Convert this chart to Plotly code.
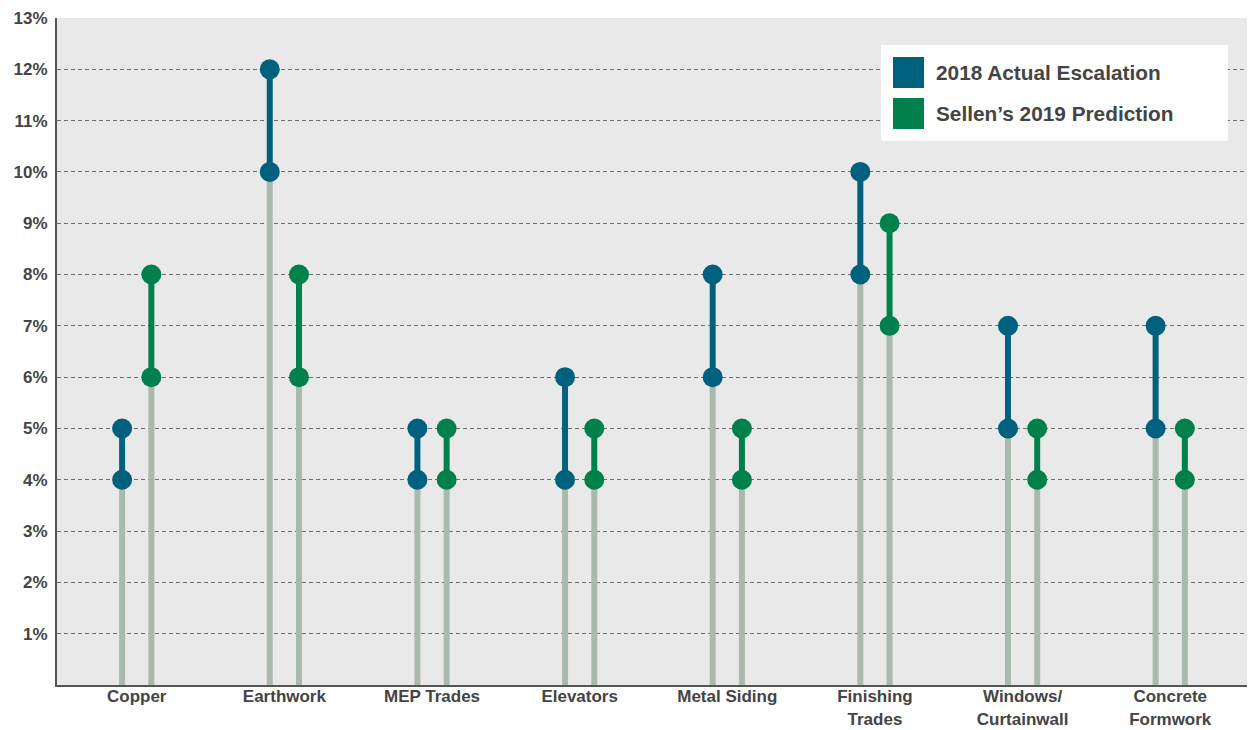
import plotly.graph_objects as go

categories = ["Copper", "Earthwork", "MEP Trades", "Elevators", "Metal Siding",
              "Finishing<br>Trades", "Windows/<br>Curtainwall", "Concrete<br>Formwork"]
actual_2018_low = [4, 10, 4, 4, 6, 8, 5, 5]
actual_2018_high = [5, 12, 5, 6, 8, 10, 7, 7]
pred_2019_low = [6, 6, 4, 4, 4, 7, 4, 4]
pred_2019_high = [8, 8, 5, 5, 5, 9, 5, 5]
series_names = ["2018 Actual Escalation", "Sellen\u2019s 2019 Prediction"]
y_ticks = list(range(1, 14))
y_tick_labels = [f"{v}%" for v in y_ticks]

BLUE = "#00617f"
GREEN = "#00804a"
STEM = "#a9b9ae"
TXT = "#444444"
FONT = "Liberation Sans"
OFF = 0.099

fig = go.Figure()

series = [
    (actual_2018_low, actual_2018_high, -OFF, BLUE),
    (pred_2019_low, pred_2019_high, OFF, GREEN),
]

# gray stems
for lows, highs, off, col in series:
    xs, ys = [], []
    for i, lo in enumerate(lows):
        xs += [i + off, i + off, None]
        ys += [0, lo, None]
    fig.add_trace(go.Scatter(x=xs, y=ys, mode="lines",
                             line=dict(color=STEM, width=6),
                             hoverinfo="skip", showlegend=False))

# colored ranges
for (lows, highs, off, col), name in zip(series, series_names):
    xs, ys = [], []
    for i, (lo, hi) in enumerate(zip(lows, highs)):
        xs += [i + off, i + off, None]
        ys += [lo, hi, None]
    fig.add_trace(go.Scatter(x=xs, y=ys, mode="lines",
                             line=dict(color=col, width=6),
                             hoverinfo="skip", showlegend=False))
    mx, my = [], []
    for i, (lo, hi) in enumerate(zip(lows, highs)):
        mx += [i + off, i + off]
        my += [lo, hi]
    fig.add_trace(go.Scatter(x=mx, y=my, mode="markers", name=name,
                             marker=dict(color=col, size=20, line=dict(width=0)),
                             showlegend=False))

# custom legend box
fig.add_shape(type="rect", xref="paper", yref="paper",
              x0=(881 - 57) / 1190, x1=(1228 - 57) / 1190,
              y0=(685 - 141) / 667, y1=(685 - 45) / 667,
              fillcolor="white", line=dict(width=0), layer="above")
for k, (name, col) in enumerate(zip(series_names, [BLUE, GREEN])):
    top = 57 + k * 41
    fig.add_shape(type="rect", xref="paper", yref="paper",
                  x0=(893 - 57) / 1190, x1=(924 - 57) / 1190,
                  y0=(685 - (top + 31)) / 667, y1=(685 - top) / 667,
                  fillcolor=col, line=dict(width=0), layer="above")
    fig.add_annotation(xref="paper", yref="paper",
                       x=(934 - 57) / 1190, y=(685 - (top + 15.5)) / 667,
                       text=f"<b>{name}</b>", showarrow=False,
                       xanchor="left", yanchor="middle",
                       font=dict(family=FONT, size=20.8, color=TXT))

fig.update_layout(
    width=1249, height=730,
    margin=dict(l=57, r=2, t=18, b=45),
    paper_bgcolor="white",
    plot_bgcolor="#e9e9e9",
    showlegend=False,
    font=dict(family=FONT, color=TXT),
    xaxis=dict(range=[-0.54, 7.52], tickvals=list(range(len(categories))),
               ticktext=[f"<b>{c}</b>" for c in categories],
               tickfont=dict(family=FONT, size=17, color=TXT),
               showgrid=False, zeroline=False, showline=True,
               linecolor="#555555", linewidth=2, ticks="",
               ticklabelstandoff=-5,
               automargin=False, fixedrange=True),
    yaxis=dict(range=[0, 13], tickvals=y_ticks,
               ticktext=[f"<b>{t}</b>" for t in y_tick_labels],
               tickfont=dict(family=FONT, size=17, color=TXT),
               showgrid=True, gridcolor="#6f6f6f", gridwidth=1,
               griddash="4px,3px", zeroline=False, showline=True,
               linecolor="#555555", linewidth=2, ticks="",
               ticklabelstandoff=4, automargin=False, fixedrange=True),
)

fig.write_html("out.html")
